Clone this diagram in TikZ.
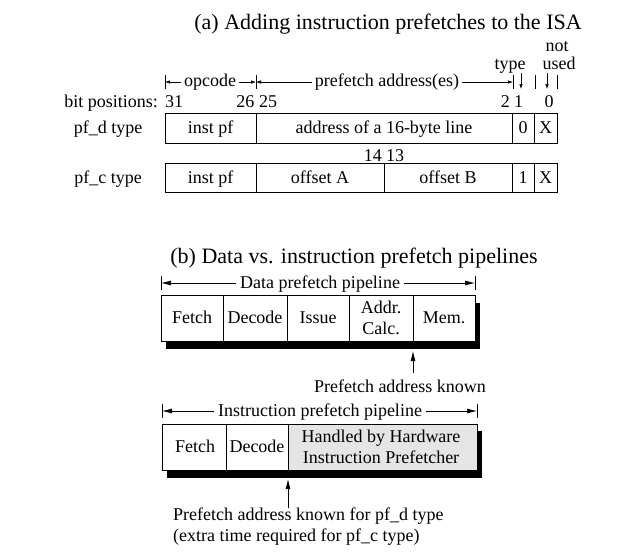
\documentclass[tikz,border=0pt]{standalone}
\usepackage{fontspec}
\setmainfont{Liberation Serif}
\usetikzlibrary{arrows.meta}
\begin{document}
\begin{tikzpicture}[x=1pt,y=-1pt,
  lbl/.style={font=\fontsize{18}{20}\selectfont, inner sep=0pt, anchor=base},
  two/.style={font=\fontsize{18}{20.5}\selectfont, inner sep=0pt, align=center},
  ttl/.style={font=\fontsize{22}{24}\selectfont, inner sep=0pt, anchor=base},
  cell/.style={draw, line width=0.8pt},
  arrA/.style={-{Latex[length=5pt,width=3.5pt]}, line width=0.6pt},
  arrB/.style={-{Latex[length=10pt,width=5pt]}, line width=0.7pt},
  tick/.style={line width=0.6pt},
  gap/.style={inner xsep=2.5pt},
]
\useasboundingbox (0,0) rectangle (640,558);

% ---------------- (a) ----------------
\node[ttl] (ta) at (388,29) {(a) Adding instruction prefetches to the ISA};

\node[lbl] (typ) at (510,69) {type};
\node[lbl] (nt) at (557,51) {not};
\node[lbl] (usd) at (559,69) {used};

% header arrows
\coordinate (h0) at (165,82);
\coordinate (h1) at (256,82);
\coordinate (h2) at (513,82);
\node[lbl, gap] (opc) at (210,86.5) {opcode};
\node[lbl, gap] (pfa) at (387,86.5) {prefetch address(es)};
\draw[arrA] (opc.west |- h0) -- (h0);
\draw[arrA] (opc.east |- h0) -- (h1);
\draw[arrA] (pfa.west |- h0) -- (h1);
\draw[arrA] (pfa.east |- h0) -- (h2);
\foreach \x in {165,256,513,535,557} \draw[tick] (\x,75) -- (\x,89);
\coordinate (d1a) at (521,73); \coordinate (d1b) at (521,89);
\coordinate (d2a) at (547,73); \coordinate (d2b) at (547,89);
\draw[arrA] (d1a) -- (d1b);
\draw[arrA] (d2a) -- (d2b);

% bit positions
\node[lbl, anchor=base east] (bp) at (158,107) {bit positions:};
\node[lbl, anchor=base west] (b31) at (165,107) {31};
\node[lbl, anchor=base east] (b26) at (254.5,107) {26};
\node[lbl, anchor=base west] (b25) at (259,107) {25};
\node[lbl, anchor=base east] (b2) at (510,107) {2};
\node[lbl, anchor=base west] (b1) at (514,107) {1};
\node[lbl] (b0) at (549,107) {0};

% pf_d row
\node[lbl] (rd) at (108,133) {pf\_d type};
\draw[cell] (165,113) rectangle (557,143);
\foreach \x in {256,512,534} \draw[cell] (\x,113) -- (\x,143);
\node[lbl] (d1) at (210.5,133) {inst pf};
\node[lbl] (d2) at (384,133) {address of a 16-byte line};
\node[lbl] (d3) at (523,133) {0};
\node[lbl] (d4) at (545.5,133) {X};

% 14 13
\node[lbl, anchor=base east] (b14) at (382,161) {14};
\node[lbl, anchor=base west] (b13) at (386,161) {13};

% pf_c row
\node[lbl] (rc) at (108,183) {pf\_c type};
\draw[cell] (165,163) rectangle (557,192);
\foreach \x in {256,384,512,534} \draw[cell] (\x,163) -- (\x,192);
\node[lbl] (c1) at (210.5,183) {inst pf};
\node[lbl] (c2) at (320,183) {offset A};
\node[lbl] (c3) at (448,183) {offset B};
\node[lbl] (c4) at (523,183) {1};
\node[lbl] (c5) at (545.5,183) {X};

% ---------------- (b) ----------------
\node[ttl] (tb) at (354,263) {(b) Data vs. instruction prefetch pipelines};

% data pipeline header
\coordinate (p0) at (161,283);
\coordinate (p1) at (475,283);
\node[lbl, gap, inner xsep=4pt] (dp) at (320,288) {Data prefetch pipeline};
\draw[arrB] (dp.west |- p0) -- (p0);
\draw[arrB] (dp.east |- p1) -- (p1);
\draw[tick] (161,276) -- (161,290);
\draw[tick] (475,276) -- (475,290);

% data pipeline boxes
\fill (166,303) rectangle (480,349);
\draw[cell, fill=white] (161,295) rectangle (475,341);
\foreach \x in {223,287,349,413} \draw[cell] (\x,295) -- (\x,341);
\node[lbl] (s1) at (192,323.5) {Fetch};
\node[lbl] (s2) at (255,323.5) {Decode};
\node[lbl] (s3) at (318,323.5) {Issue};
\node[two] (s4) at (381,318) {Addr.\\Calc.};
\node[lbl] (s5) at (444,323.5) {Mem.};

\coordinate (k0) at (413,373);
\coordinate (k1) at (413,351);
\draw[arrB] (k0) -- (k1);
\node[lbl] (kn) at (400,392) {Prefetch address known};

% instruction pipeline header
\coordinate (q0) at (162,411);
\coordinate (q1) at (477,411);
\node[lbl, gap, inner xsep=4pt] (ip) at (320,416) {Instruction prefetch pipeline};
\draw[arrB] (ip.west |- q0) -- (q0);
\draw[arrB] (ip.east |- q1) -- (q1);
\draw[tick] (162,404) -- (162,418);
\draw[tick] (477,404) -- (477,418);

% instruction pipeline boxes
\fill (167,431) rectangle (482,478);
\draw[cell, fill=white] (162,424) rectangle (477,470);
\draw[cell, fill=black!10] (288,424) rectangle (477,470);
\draw[cell] (226,424) -- (226,470);
\node[lbl] (i1) at (195,452) {Fetch};
\node[lbl] (i2) at (257,452) {Decode};
\node[two] (i3) at (381,447) {Handled by Hardware\\Instruction Prefetcher};

\coordinate (m0) at (288,508);
\coordinate (m1) at (288,479);
\draw[arrB] (m0) -- (m1);
\node[lbl, anchor=base west] (mk1) at (173,520) {Prefetch address known for pf\_d type};
\node[lbl, anchor=base west] (mk2) at (173,541) {(extra time required for pf\_c type)};
\end{tikzpicture}
\end{document}
